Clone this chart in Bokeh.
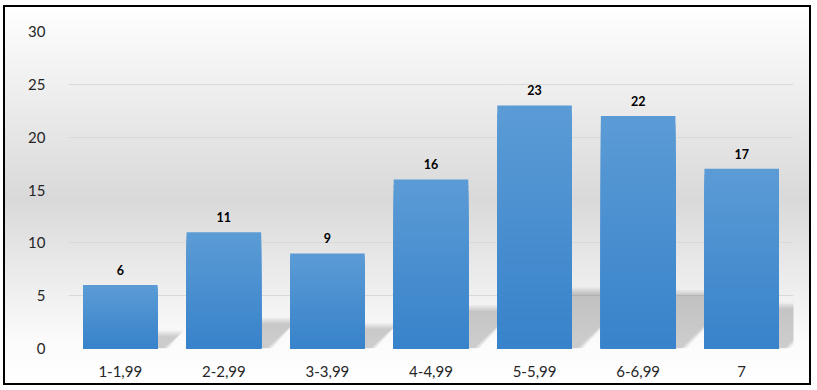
from bokeh.plotting import figure
from bokeh.models import Range1d, FixedTicker
from bokeh.embed import file_html
from bokeh.resources import INLINE
from bokeh.core.properties import value

categories = ["1-1,99", "2-2,99", "3-3,99", "4-4,99", "5-5,99", "6-6,99", "7"]
counts = [6, 11, 9, 16, 23, 22, 17]
y_ticks = [0, 5, 10, 15, 20, 25, 30]

W, H = 808, 380
p = figure(width=W, height=H, output_backend="svg", toolbar_location=None,
           x_range=Range1d(0, len(categories)), y_range=Range1d(0, 30),
           min_border_left=63, min_border_right=20, min_border_top=24, min_border_bottom=39)
p.styles = {
    "background": "linear-gradient(to bottom, #ffffff 0%, #d9d9d9 51%, #fbfbfb 89%, #ffffff 100%)",
    "border": "2px solid #000000",
    "margin-left": "3px",
    "margin-top": "5px",
}
p.border_fill_color = None
p.background_fill_color = None
p.outline_line_color = None

xs = [i + 0.5 for i in range(len(categories))]
half = 0.36

# perspective shadows (soft edges via layered translucent polygons)
px_x = 725 / len(categories)   # pixels per category unit
px_y = 317 / 30                # pixels per value unit
k, m = 0.24, 0.024
layers = [(-3, 0.035), (-1.5, 0.04), (0, 0.045), (1.5, 0.045), (3, 0.035)]
for d, a in layers:
    sx, sy = [], []
    for c, v in zip(xs, counts):
        L, R = c - half, c + half
        hs = k * v - d / px_y
        dx = m * v
        off = d / px_x
        sx.append([L, R + 0.08 - off, R + 0.08 + dx - off, L + dx])
        sy.append([0, 0, hs, hs])
    p.patches(sx, sy, fill_color="#000000", fill_alpha=a, line_color=None)

# gradient bars: layered from full height (light top) to short (dark bottom)
top_rgb = (91, 155, 213)
bot_rgb = (56, 131, 203)
N = 30
for j in range(N):
    t = j / (N - 1)
    col = "#%02x%02x%02x" % tuple(round(top_rgb[q] + (bot_rgb[q] - top_rgb[q]) * t) for q in range(3))
    frac = 1 - j / N
    p.vbar(x=xs, top=[v * frac for v in counts], bottom=0, width=2 * half,
           fill_color=col, line_color=None)

p.text(x=xs, y=counts, text=[str(v) for v in counts], text_align="center",
       text_baseline="alphabetic", y_offset=-15, text_font=value("Lato"),
       text_font_style="bold", text_font_size="12.5px", text_color="#000000")

p.xgrid.grid_line_color = None
p.ygrid.grid_line_color = "#d9d9d9"
p.ygrid.grid_line_width = 1

p.yaxis.ticker = FixedTicker(ticks=y_ticks)
p.xaxis.ticker = FixedTicker(ticks=xs)
p.xaxis.major_label_overrides = {x: c for x, c in zip(xs, categories)}
for ax in (p.xaxis, p.yaxis):
    ax.axis_line_color = None
    ax.major_tick_line_color = None
    ax.minor_tick_line_color = None
    ax.major_label_text_font = "Lato"
    ax.major_label_text_font_size = "15px"
    ax.major_label_text_color = "#262626"
p.yaxis.major_label_standoff = 17
p.xaxis.major_label_standoff = 11

open("out.html", "w").write(file_html(p, INLINE))
